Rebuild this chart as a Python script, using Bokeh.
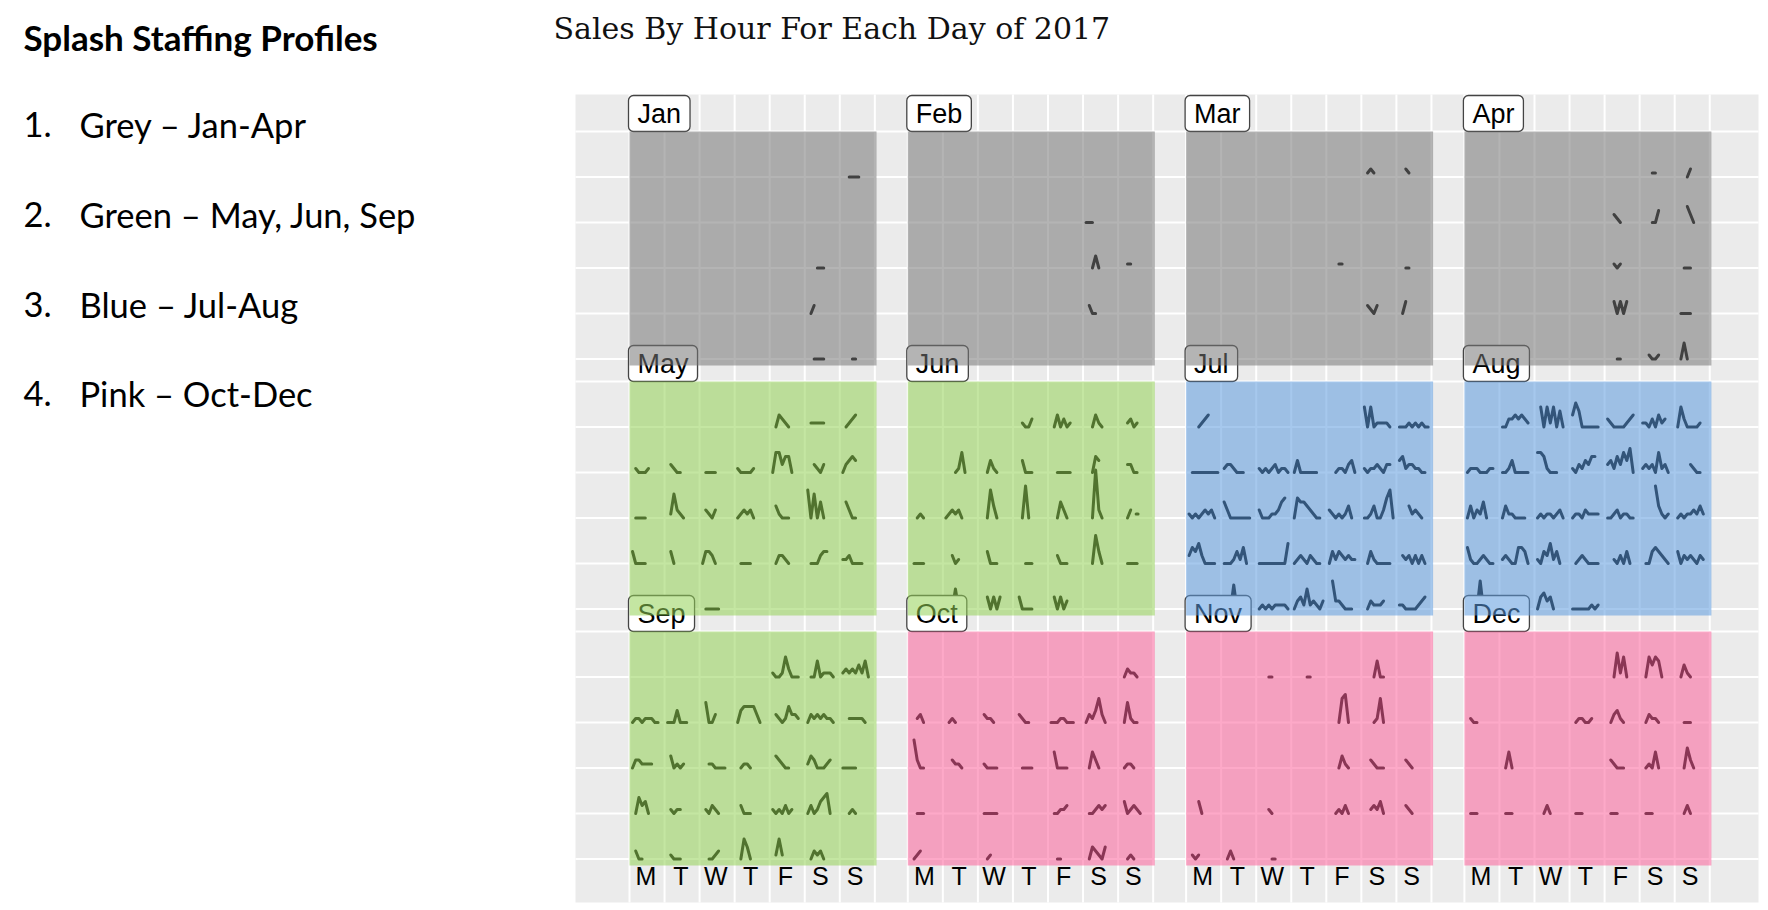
from bokeh.plotting import figure
from bokeh.models import Range1d
from bokeh.embed import file_html
from bokeh.resources import INLINE
from bokeh.core.properties import value

# ---------------- data ----------------
TITLE = "Sales By Hour For Each Day of 2017"
HEADING = "Splash Staffing Profiles"
LIST_NUMS = ["1.", "2.", "3.", "4."]
LIST_TEXT = ["Grey \u2013 Jan-Apr", "Green \u2013 May, Jun, Sep", "Blue \u2013 Jul-Aug", "Pink \u2013 Oct-Dec"]

MONTHS = ["Jan", "Feb", "Mar", "Apr", "May", "Jun", "Jul", "Aug", "Sep", "Oct", "Nov", "Dec"]
WEEKDAYS = ["M", "T", "W", "T", "F", "S", "S"]
PROFILE = ["grey", "grey", "grey", "grey", "green", "green", "blue", "blue", "green", "pink", "pink", "pink"]

# hourly sales per day: 5 week rows x 7 weekday cells per month;
# each cell token lists hourly sales (hex digits), '.' = no sales recorded
JAN = [". . . . . . ..0000",
       ". . . . . . .",
       ". . . . . ...000 .",
       ". . . . . .02 .",
       ". . . . . ..0000 ...00"]
FEB = [". . . . . . .",
       ". . . . . 000 .",
       ". . . . . ..030 ..11",
       ". . . . . .200 .",
       ". . . . . . ."]
MAR = [". . . . . .121 ..21",
       ". . . . . . .",
       ". . . . ...11 . ..00",
       ". . . . . .2102 .03",
       ". . . . . . ."]
APR = [". . . . . ...11 ...02",
       ". . . . ..210 ...003 ...420",
       ". . . . ..101 . ..000",
       ". . . . ..30303 . .0000",
       ". . . . ...00 ..1001 .040"]
MAY = [". . . . .03210 .11111 .0123",
       ".10001 .2100 .0000 100001 0552440 ..2102 02343",
       ".0000 .16210 .2102 012120 .31000 706040 .4200",
       "30000 .30 03320 .0000 .02210 .000233 1120000",
       ". . .00000 . . . ."]
JUN = [". . . ..1002 .030201 ..0310 ..1201",
       ". ...0150 ..0310 ..3000 ..00000 ..043 ..2200",
       "..010 012120 ..0730 ..080 ..0420 ..0C20 ..02.1",
       ".0000 ..201 ..3000 ...000 ..2000 ..0730 ..0000",
       ". ..050 ..30303 .30000 .30302 . ."]
JUL = ["...0123 . . . . 505011110 0001010100",
       ".000000000 1221000 1010120110 03000000 ..0110230 101121022 341221100",
       "101012120 420000000 200011245 054432100 21010130 0013002570 ...31210",
       "243520000 00013140 0000000005 012102100 031321211 .03100000 .21202020",
       ". ..060 0101011110 0231512102 .7221000 .021112 110000123"]
AUG = [". 002232321 .50515040 364000000 210000123 11020312 05200001",
       "011100011 001300000 5541000 10213244 231425360 121205120 ....2100",
       "0302140 03110000 010110120 011021111 001201100 ....83101 010112131",
       "410012100 121004430 10325130 .01210000 ..102030 .00343210 302121021",
       "...070 . 034230 000000101 . . ."]
SEP = [". . . . 100152000 .00401110 121213140",
       "011011100 0003000 .5002 03444420 .21014221 021212110 ..111110",
       "0221111 .30101 ..110000 .0110 .32100 13200012 00000",
       ".04230 .1011 .10210 .2000 1010201 02013450 ..010",
       ".200 .1000 ..0012 .0530 .151 .02120 ."]
OCT = [". . . . . . .02110",
       "..120 .010 .2110 .2100 00011000 0213620 .05100",
       ".7200 ..2110 .10000 ..0000 .40000 .0420 .0110",
       "..000 . .00000 . .00112 .001212 .301210",
       ".012 . ..01 . ..00 .032103 ..010"]
NOV = [". . ...00 ....00 . ...0400 .",
       ". . . . ...0670 ...0160 .",
       ". . . . ...0310 ..21000 ..210",
       "...30 . ...10 . ..01020 ..12130 ..210",
       ".101 .020 ....00 . . . ."]
DEC = [". . . . ..06150 .053540 .0310",
       ".100 . . .011001 .02310 .02110 ..000",
       ". .040 . . .21000 .01040 ..0520",
       ".000 .000 ..020 .000 .000 .000 ..020",
       ". . . . . . ."]
SALES = [JAN, FEB, MAR, APR, MAY, JUN, JUL, AUG, SEP, OCT, NOV, DEC]

# ---------------- layout / style ----------------
W, H = 1768, 910
PLOT_L, PLOT_R, PLOT_T, PLOT_B = 575, 1758, 94, 902
PANEL_X0, PANEL_DX = 629.0, 278.3
PANEL_Y0, PANEL_DY = 131.0, 250.0
PANEL_W, PANEL_H = 247.0, 234.0
COL_W, ROW_H = 35.05, 45.5
SLOT_X0, SLOT_DX = 3.0, 3.2
UNIT = 4.0
FILL = {"grey": "#777777", "green": "#94D256", "blue": "#5D9BDE", "pink": "#FB629B"}
FILL_ALPHA = 0.55
BG = "#EBEBEB"


def panel_origin(m):
    return PANEL_X0 + PANEL_DX * (m % 4), PANEL_Y0 + PANEL_DY * (m // 4)


def parse(token):
    segs, cur = [], []
    for i, ch in enumerate(token):
        if ch == ".":
            if cur:
                segs.append(cur)
                cur = []
        else:
            cur.append((i, int(ch, 16)))
    if cur:
        segs.append(cur)
    return segs


p = figure(width=W, height=H, x_range=Range1d(0, W), y_range=Range1d(H, 0),
           min_border=0, toolbar_location=None, output_backend="svg",
           x_axis_location=None, y_axis_location=None,
           background_fill_color="white", border_fill_color="white",
           outline_line_color=None)
p.xgrid.visible = False
p.ygrid.visible = False

# panel background
p.quad(left=[PLOT_L], right=[PLOT_R], top=[PLOT_T], bottom=[PLOT_B],
       fill_color=BG, line_color=None)

# grid lines
gx0, gy0, gx1, gy1 = [], [], [], []
for r in range(3):
    top = PANEL_Y0 + PANEL_DY * r
    for k in range(6):
        y = top + ROW_H * k
        gx0.append(PLOT_L); gx1.append(PLOT_R); gy0.append(y); gy1.append(y)
for c in range(4):
    left = PANEL_X0 + PANEL_DX * c
    for k in range(8):
        x = left + COL_W * k
        gx0.append(x); gx1.append(x); gy0.append(PLOT_T); gy1.append(PLOT_B)
p.segment(x0=gx0, y0=gy0, x1=gx1, y1=gy1, line_color="white", line_width=2)

# sparklines
xs, ys = [], []
for m, rows in enumerate(SALES):
    px, py = panel_origin(m)
    for r, row in enumerate(rows):
        toks = row.split()
        assert len(toks) == 7, (MONTHS[m], r)
        base = py + ROW_H * (r + 1)
        for c, tok in enumerate(toks):
            cx = px + COL_W * c + SLOT_X0
            for seg in parse(tok):
                if len(seg) == 1:
                    i, v = seg[0]
                    seg = [(i - 0.3, v), (i + 0.3, v)]
                xs.append([cx + i * SLOT_DX for i, v in seg])
                ys.append([base - v * UNIT for i, v in seg])
p.multi_line(xs=xs, ys=ys, line_color="black", line_width=3,
             line_cap="round", line_join="round")

# month labels (box anchored at the panel's left edge)
lx = [panel_origin(m)[0] - 1 for m in range(12)]
ly = [panel_origin(m)[1] - 18 for m in range(12)]
p.text(x=lx, y=ly, text=MONTHS, text_font=value("Liberation Sans"),
       text_font_size="27px", text_baseline="middle", text_align="left",
       text_color="black", background_fill_color="white",
       border_line_color="#444444", border_line_width=1.3,
       border_radius=5, padding=(9, 3))

# month panels
p.quad(left=[panel_origin(m)[0] for m in range(12)],
       right=[panel_origin(m)[0] + PANEL_W for m in range(12)],
       top=[panel_origin(m)[1] for m in range(12)],
       bottom=[panel_origin(m)[1] + PANEL_H for m in range(12)],
       fill_color=[FILL[k] for k in PROFILE], fill_alpha=FILL_ALPHA, line_color=None)

# weekday labels under the last row of months
wx, wy, wt = [], [], []
for m in range(8, 12):
    px, py = panel_origin(m)
    for k, d in enumerate(WEEKDAYS):
        wx.append(px + 16.5 + 34.85 * k)
        wy.append(875)
        wt.append(d)
p.text(x=wx, y=wy, text=wt, text_font=value("Liberation Sans"), text_font_size="25px",
       text_align="center", text_baseline="middle", text_color="black")

# title
p.text(x=[553], y=[28], text=[TITLE], text_font=value("DejaVu Serif"),
       text_font_size="30px", text_baseline="alphabetic", text_align="left",
       text_color="#111111")

# left-hand notes
p.text(x=[23], y=[36], text=[HEADING], text_font=value("Lato"), text_font_style="bold",
       text_font_size="35px", text_baseline="alphabetic", text_color="black")
LIST_Y = [124, 214, 304, 393]
p.text(x=[23] * 4, y=LIST_Y, text=LIST_NUMS, text_font=value("Lato"),
       text_font_size="34.5px", text_baseline="alphabetic", text_color="black")
p.text(x=[79] * 4, y=LIST_Y, text=LIST_TEXT, text_font=value("Lato"),
       text_font_size="34.5px", text_baseline="alphabetic", text_color="black")

open("out.html", "w").write(file_html(p, INLINE))
